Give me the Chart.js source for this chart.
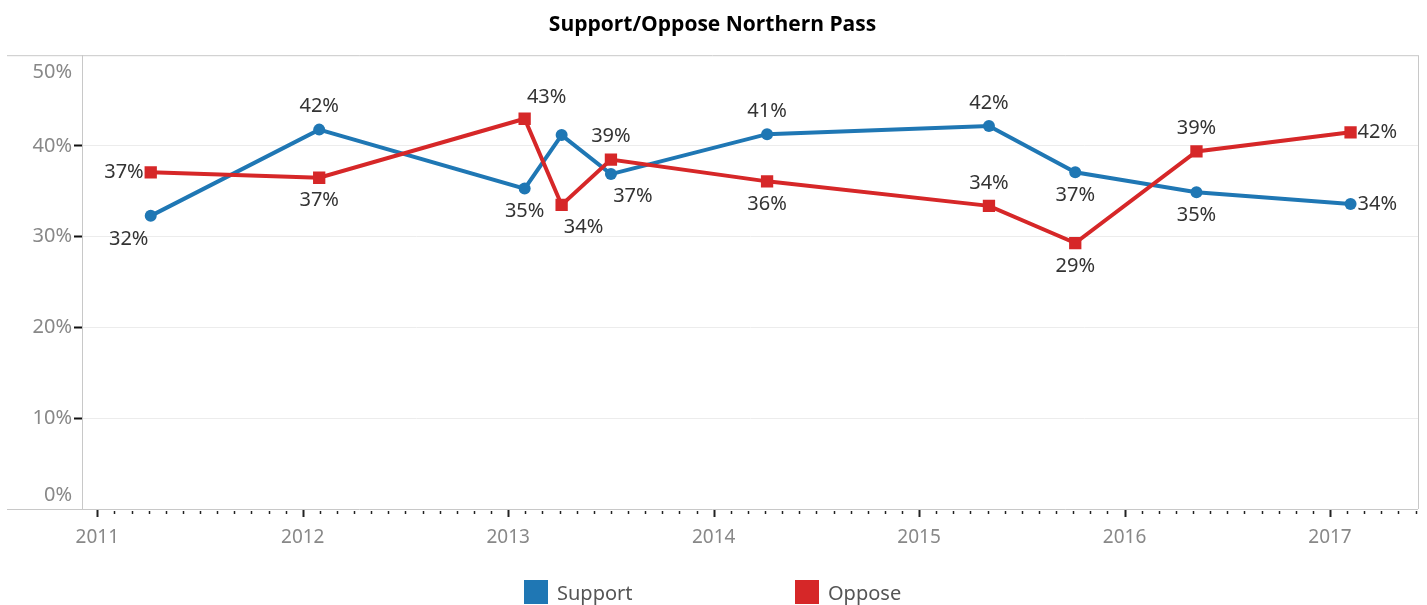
<!DOCTYPE html>
<html>
<head>
<meta charset="utf-8">
<script src="https://cdn.jsdelivr.net/npm/chart.js@4"></script>
<style>
  body { margin: 0; background: #fff; }
  #wrap { position: relative; width: 1427px; height: 605px; }
  #legend { position: absolute; top: 580px; left: 524px; display: flex; font: 20px "Noto Sans"; color: #555; }
  #legend .item { display: flex; align-items: center; height: 24px; }
  #legend .box { width: 24px; height: 24px; margin-right: 9px; }
</style>
</head>
<body>
<div id="wrap">
  <canvas id="graph_np" width="1427" height="605"></canvas>
  <div id="legend"></div>
</div>
<script>
// survey dates as decimal years
var dates = [2011.26, 2012.08, 2013.08, 2013.26, 2013.5, 2014.26, 2015.34, 2015.76, 2016.35, 2017.1];
var support = [32.3, 41.8, 35.3, 41.2, 36.9, 41.3, 42.2, 37.1, 34.9, 33.6];
var oppose = [37.1, 36.5, 43.0, 33.5, 38.5, 36.1, 33.4, 29.3, 39.4, 41.5];
var supportText = ["32%", "42%", "35%", "", "37%", "41%", "42%", "37%", "35%", "34%"];
var opposeText = ["37%", "37%", "43%", "34%", "39%", "36%", "34%", "29%", "39%", "42%"];
var yearTicks = [2011, 2012, 2013, 2014, 2015, 2016, 2017];
var yTicks = [0, 10, 20, 30, 40, 50];

// where each label sits relative to its point
var supportPos = ["belowLeft", "above", "below", "none", "belowRight", "above", "above", "below", "below", "right"];
var opposePos = ["left", "below", "aboveRight", "belowRight", "above", "below", "above", "below", "above", "right"];

var BLUE = "#1f77b4";
var RED = "#d62728";

function pts(xs, ys) {
    return xs.map(function (x, i) { return { x: x, y: ys[i] }; });
}

var frame = {
    id: 'frame',
    beforeDatasetsDraw: function (chart) {
        var c = chart.ctx, a = chart.chartArea;
        c.save();
        c.strokeStyle = "#c8c8c8";
        c.lineWidth = 1;
        c.beginPath();
        c.moveTo(7, a.top + 0.5); c.lineTo(a.right, a.top + 0.5);
        c.moveTo(7, a.bottom + 0.5); c.lineTo(a.right, a.bottom + 0.5);
        c.moveTo(a.right + 0.5, a.top); c.lineTo(a.right + 0.5, a.bottom);
        c.stroke();
        // monthly ticks on x axis
        var sx = chart.scales.x;
        c.strokeStyle = "#222";
        for (var k = -1; k <= 6 * 12 + 5; k++) {
            var v = 2011 + k / 12;
            if (v < sx.min || v > sx.max) continue;
            var px = Math.round(sx.getPixelForValue(v)) + 0.5;
            var major = (k % 12 === 0);
            c.lineWidth = major ? 2 : 1.5;
            c.beginPath();
            c.moveTo(px, a.bottom + (major ? 1 : 2));
            c.lineTo(px, a.bottom + (major ? 8 : 5));
            c.stroke();
        }
        c.restore();
    }
};

var pointLabels = {
    id: 'pointLabels',
    afterDatasetsDraw: function (chart) {
        var c = chart.ctx;
        c.save();
        c.font = "20px 'Noto Sans'";
        c.fillStyle = "#333";
        chart.data.datasets.forEach(function (ds, di) {
            var meta = chart.getDatasetMeta(di);
            meta.data.forEach(function (p, i) {
                var pos = ds.labelPos[i];
                if (pos === "none") return;
                var t = ds.labelText[i], x = p.x, y = p.y;
                c.textAlign = "center";
                c.textBaseline = "middle";
                if (pos === "above") y -= 23;
                else if (pos === "below") y += 23;
                else if (pos === "aboveRight") { x += 22; y -= 21; }
                else if (pos === "belowRight") { x += 22; y += 22; }
                else if (pos === "belowLeft") { x -= 22; y += 23; }
                else if (pos === "left") { c.textAlign = "right"; x -= 7; }
                else if (pos === "right") { c.textAlign = "left"; x += 7; }
                c.fillText(t, x, y);
            });
        });
        c.restore();
    }
};

var ctx = document.getElementById("graph_np");

var myChart_np = new Chart(ctx, {
    type: 'line',
    data: {
        datasets: [{
            label: "Oppose",
            data: pts(dates, oppose),
            labelText: opposeText,
            labelPos: opposePos,
            borderColor: RED,
            backgroundColor: RED,
            borderWidth: 4,
            pointStyle: 'rect',
            pointRadius: 8.7,
            pointBorderWidth: 0,
            pointHoverRadius: 8.7,
            tension: 0
        }, {
            label: "Support",
            data: pts(dates, support),
            labelText: supportText,
            labelPos: supportPos,
            borderColor: BLUE,
            backgroundColor: BLUE,
            borderWidth: 4,
            pointStyle: 'circle',
            pointRadius: 6,
            pointBorderWidth: 0,
            pointHoverRadius: 6,
            tension: 0
        }]
    },
    plugins: [frame, pointLabels],
    options: {
        responsive: false,
        animation: false,
        layout: {
            padding: { left: 7, right: 9, top: 0, bottom: 56 }
        },
        plugins: {
            legend: { display: false },
            tooltip: { enabled: false },
            title: {
                display: true,
                text: "Support/Oppose Northern Pass",
                color: "#000",
                font: { family: "'Open Sans'", size: 21, weight: 'bold', lineHeight: 1.2 },
                padding: { top: 12, bottom: 18 }
            }
        },
        scales: {
            x: {
                type: 'linear',
                min: 2010.9255,
                max: 2017.4283,
                afterBuildTicks: function (scale) {
                    scale.ticks = yearTicks.map(function (v) { return { value: v }; });
                },
                afterFit: function (scale) { scale.height = 40; },
                grid: { drawOnChartArea: false, drawTicks: false },
                border: { display: false },
                ticks: {
                    autoSkip: false,
                    maxRotation: 0,
                    padding: 17,
                    color: "#888",
                    font: { family: "'Noto Sans'", size: 19 },
                    callback: function (v) { return String(v); }
                }
            },
            y: {
                min: 0,
                max: 50,
                afterBuildTicks: function (scale) {
                    scale.ticks = yTicks.map(function (v) { return { value: v }; });
                },
                afterFit: function (scale) { scale.width = 75; },
                grid: {
                    color: function (c) {
                        var v = c.tick ? c.tick.value : 0;
                        return (v === 0 || v === 50) ? "rgba(0,0,0,0)" : "#ececec";
                    },
                    tickColor: function (c) {
                        var v = c.tick ? c.tick.value : 0;
                        return (v === 0 || v === 50) ? "rgba(0,0,0,0)" : "#111";
                    },
                    tickLength: 8,
                    tickWidth: 2
                },
                border: { display: true, color: "#c8c8c8", width: 1 },
                ticks: {
                    padding: 2,
                    color: "#888",
                    font: function (c) {
                        var v = c.tick ? c.tick.value : 0;
                        var lh = v === 0 ? 1.4 : (v === 50 ? 1.7 : 1.2);
                        return { family: "'Noto Sans'", size: 20, lineHeight: lh };
                    },
                    callback: function (v) {
                        if (v === 0) return ["0%", ""];
                        if (v === 50) return ["", "50%"];
                        return v + "%";
                    }
                }
            }
        }
    }
});

// legend below the chart
var legendItems = [["Support", BLUE], ["Oppose", RED]];
var lg = document.getElementById("legend");
legendItems.forEach(function (it, i) {
    var d = document.createElement("div");
    d.className = "item";
    d.style.width = i === 0 ? "271px" : "auto";
    d.innerHTML = '<span class="box" style="background:' + it[1] + '"></span><span>' + it[0] + '</span>';
    lg.appendChild(d);
});
</script>
</body>
</html>
